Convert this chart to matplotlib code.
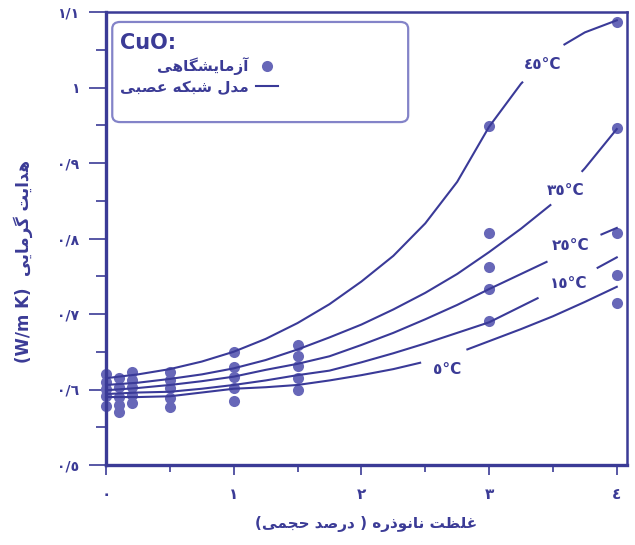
import numpy as np
import matplotlib
matplotlib.use('Agg')
from matplotlib import pyplot as plt
from matplotlib.patches import FancyBboxPatch

########
# Data #
########

# experimental points, one list per temperature (CuO nanofluid)
x_exp = [0, 0.1, 0.2, 0.5, 1, 1.5, 3, 4]
exp_45 = [0.621, 0.615, 0.623, 0.623, 0.650, 0.659, 0.949, 1.087]
exp_35 = [0.610, 0.603, 0.613, 0.613, 0.630, 0.645, 0.807, 0.946]
exp_25 = [0.601, 0.590, 0.603, 0.602, 0.617, 0.631, 0.762, 0.807]
exp_15 = [0.591, 0.579, 0.593, 0.589, 0.602, 0.615, 0.733, 0.752]
exp_5 = [0.578, 0.570, 0.582, 0.577, 0.585, 0.600, 0.691, 0.715]

# neural network model curves
x_fit = [0, 0.25, 0.5, 0.75, 1, 1.25, 1.5, 1.75, 2, 2.25, 2.5, 2.75, 3, 3.25, 3.5, 3.75, 4]
fit_45 = [0.615, 0.620, 0.627, 0.637, 0.650, 0.667, 0.688, 0.713, 0.743, 0.777, 0.820, 0.875, 0.948, 1.005, 1.048, 1.073, 1.089]
fit_35 = [0.606, 0.609, 0.614, 0.620, 0.628, 0.639, 0.653, 0.669, 0.686, 0.706, 0.728, 0.753, 0.782, 0.813, 0.847, 0.893, 0.945]
fit_25 = [0.599, 0.602, 0.606, 0.611, 0.617, 0.626, 0.634, 0.644, 0.659, 0.675, 0.693, 0.712, 0.733, 0.753, 0.773, 0.796, 0.814]
fit_15 = [0.594, 0.596, 0.597, 0.601, 0.606, 0.612, 0.619, 0.625, 0.636, 0.648, 0.661, 0.675, 0.689, 0.710, 0.731, 0.752, 0.775]
fit_5 = [0.590, 0.590, 0.591, 0.596, 0.601, 0.603, 0.606, 0.612, 0.619, 0.627, 0.637, 0.648, 0.664, 0.680, 0.697, 0.716, 0.736]

temp_labels = ['\u0664\u0665\u00b0C', '\u0663\u0665\u00b0C', '\u0662\u0665\u00b0C', '\u0661\u0665\u00b0C', '\u0665\u00b0C']

x_ticks = [0, 1, 2, 3, 4]
x_ticklabels = ['\u0660', '\u0661', '\u0662', '\u0663', '\u0664']
y_ticks = [0.5, 0.6, 0.7, 0.8, 0.9, 1.0, 1.1]
y_ticklabels = ['\u0660/\u0665', '\u0660/\u0666', '\u0660/\u0667', '\u0660/\u0668',
                '\u0660/\u0669', '\u0661', '\u0661/\u0661']

###########
# Persian #
###########

# matplotlib does no arabic shaping: pick presentation forms by hand
# (isolated, final, initial, medial)
FORMS = {
    '\u0627': ('\uFE8D', '\uFE8E', None, None),
    '\u0622': ('\uFE81', '\uFE82', None, None),
    '\u0628': ('\uFE8F', '\uFE90', '\uFE91', '\uFE92'),
    '\u062A': ('\uFE95', '\uFE96', '\uFE97', '\uFE98'),
    '\u062C': ('\uFE9D', '\uFE9E', '\uFE9F', '\uFEA0'),
    '\u062D': ('\uFEA1', '\uFEA2', '\uFEA3', '\uFEA4'),
    '\u062F': ('\uFEA9', '\uFEAA', None, None),
    '\u0630': ('\uFEAB', '\uFEAC', None, None),
    '\u0631': ('\uFEAD', '\uFEAE', None, None),
    '\u0632': ('\uFEAF', '\uFEB0', None, None),
    '\u0634': ('\uFEB5', '\uFEB6', '\uFEB7', '\uFEB8'),
    '\u0635': ('\uFEB9', '\uFEBA', '\uFEBB', '\uFEBC'),
    '\u0638': ('\uFEC5', '\uFEC6', '\uFEC7', '\uFEC8'),
    '\u0639': ('\uFEC9', '\uFECA', '\uFECB', '\uFECC'),
    '\u063A': ('\uFECD', '\uFECE', '\uFECF', '\uFED0'),
    '\u0644': ('\uFEDD', '\uFEDE', '\uFEDF', '\uFEE0'),
    '\u0645': ('\uFEE1', '\uFEE2', '\uFEE3', '\uFEE4'),
    '\u0646': ('\uFEE5', '\uFEE6', '\uFEE7', '\uFEE8'),
    '\u0647': ('\uFEE9', '\uFEEA', '\uFEEB', '\uFEEC'),
    '\u0648': ('\uFEED', '\uFEEE', None, None),
    '\u06CC': ('\uFBFC', '\uFBFD', '\uFBFE', '\uFBFF'),
    '\u06A9': ('\uFB8E', '\uFB8F', '\uFB90', '\uFB91'),
    '\u06AF': ('\uFB92', '\uFB93', '\uFB94', '\uFB95'),
}


def fa(s):
    s = s.replace('\u064A', '\u06CC').replace('\u0643', '\u06A9')
    out = []
    for i, ch in enumerate(s):
        f = FORMS.get(ch)
        if f is None:
            out.append(ch)
            continue
        prev = s[i - 1] if i > 0 else ''
        nxt = s[i + 1] if i + 1 < len(s) else ''
        join_prev = prev in FORMS and FORMS[prev][2] is not None
        join_next = f[2] is not None and nxt in FORMS
        if join_prev and join_next:
            out.append(f[3])
        elif join_prev:
            out.append(f[1])
        elif join_next:
            out.append(f[2])
        else:
            out.append(f[0])
    mirror = {'(': ')', ')': '('}
    return ''.join(mirror.get(c, c) for c in reversed(out))


##########
# Figure #
##########

plt.rcParams['font.family'] = ['DejaVu Sans']
plt.rcParams['font.weight'] = 'bold'

ink = '#3b3b96'
line_col = '#3a3a98'
dot_col = '#6767b8'

fig = plt.figure(figsize=(6.35, 5.45), dpi=100)
ax = fig.add_axes([106 / 635, 1 - 465 / 545, 521 / 635, 453 / 545])

fits = [fit_45, fit_35, fit_25, fit_15, fit_5]
exps = [exp_45, exp_35, exp_25, exp_15, exp_5]
# where each curve is broken for its label, and where the label sits
gaps = [(3.26, 3.59), (3.48, 3.73), (3.45, 3.88), (3.38, 3.85), (2.46, 2.83)]
label_pos = [(3.42, 1.030), (3.60, 0.864), (3.64, 0.791), (3.62, 0.741), (2.67, 0.626)]

line_h = None
dot_h = None
for fit, ex, gap, lab, pos in zip(fits, exps, gaps, temp_labels, label_pos):
    xs = np.asarray(x_fit)
    ys = np.asarray(fit)
    y0, y1 = np.interp(gap, xs, ys)
    left = xs < gap[0]
    right = xs > gap[1]
    line_h, = ax.plot(np.r_[xs[left], gap[0]], np.r_[ys[left], y0],
                      color=line_col, lw=1.5, zorder=3, clip_on=False)
    ax.plot(np.r_[gap[1], xs[right]], np.r_[y1, ys[right]],
            color=line_col, lw=1.5, zorder=3, clip_on=False)
    dot_h, = ax.plot(x_exp, ex, 'o', ms=8, color=dot_col, mec='none',
                     zorder=2, clip_on=False)
    ax.text(pos[0], pos[1], lab, color=ink, fontsize=11, fontweight='bold',
            ha='center', va='center')

ax.set_xlim(0, 4.08)
ax.set_ylim(0.5, 1.1)
ax.set_xticks(x_ticks)
ax.set_xticklabels(x_ticklabels, fontsize=11, fontweight='bold', color=ink)
ax.set_xticks([0.5, 1.5, 2.5, 3.5], minor=True)
ax.set_yticks(y_ticks)
ax.set_yticklabels(y_ticklabels, fontsize=10, fontweight='bold', color=ink)
ax.set_yticks([0.55, 0.65, 0.75, 0.85, 0.95, 1.05], minor=True)

ax.tick_params(axis='y', which='major', length=12, width=1.2, color=ink, pad=7)
ax.tick_params(axis='y', which='minor', length=7, width=1.2, color=ink)
ax.tick_params(axis='x', which='major', length=7, width=1.2, color=ink, pad=9)
ax.tick_params(axis='x', which='minor', length=5, width=1.2, color=ink)

for side, w in [('left', 2.4), ('bottom', 2.4), ('top', 1.8), ('right', 1.8)]:
    ax.spines[side].set_color(ink)
    ax.spines[side].set_linewidth(w)

ax.set_ylabel('(W/m K)  ' + fa('هدایت گرمایی'), fontsize=12,
              fontweight='bold', color=ink)
ax.yaxis.set_label_coords(-0.14, 0.45)
ax.set_xlabel(fa('غلظت نانوذره ( درصد حجمی)'), fontsize=11,
              fontweight='bold', color=ink, labelpad=10)

# legend box
box = FancyBboxPatch((0.012, 0.757), 0.568, 0.221, transform=ax.transAxes,
                     boxstyle='round,pad=0,rounding_size=0.015',
                     facecolor='white', edgecolor='#8383c8', lw=1.6, zorder=4)
ax.add_patch(box)
leg = ax.legend([dot_h, line_h], [fa('آزمایشگاهی'), fa('مدل شبکه عصبی')],
                title='CuO:', loc='upper left', bbox_to_anchor=(0.0, 0.985),
                frameon=False, markerfirst=False, alignment='left',
                prop={'size': 11, 'weight': 'bold'},
                title_fontproperties={'size': 15, 'weight': 'bold'},
                handlelength=1.4, handletextpad=0.5, labelspacing=0.3)
leg.set_zorder(5)
for t in leg.get_texts():
    t.set_color(ink)
leg.get_title().set_color(ink)

fig.savefig('out.png', dpi=100)
